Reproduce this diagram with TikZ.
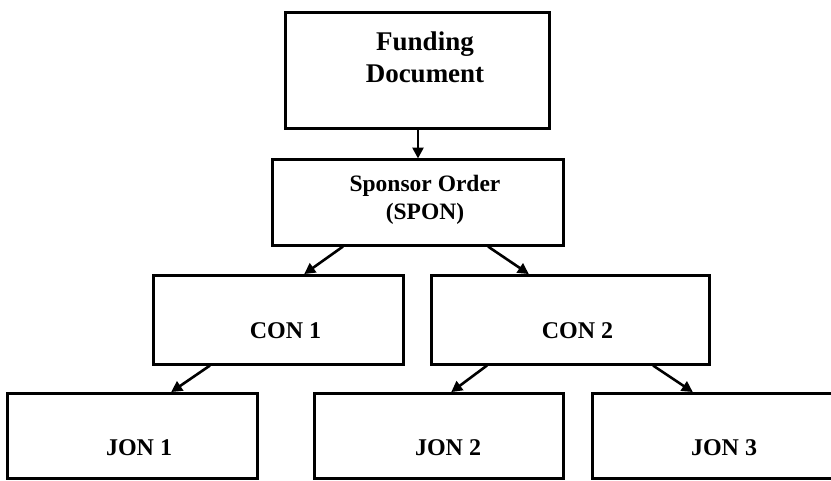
\documentclass[tikz,border=0pt]{standalone}
\usepackage{fontspec}
\setmainfont{Liberation Serif}
\usetikzlibrary{arrows.meta}

\tikzset{
  box/.style={draw=black, line width=3pt, rectangle, inner sep=0pt},
  lbl/.style={font=\bfseries, align=center, inner sep=0pt},
  arr/.style={line width=2.6pt, -{Triangle[length=11pt,width=11pt]}, shorten >=-1pt},
}

\begin{document}
\begin{tikzpicture}[x=1pt, y=-1pt]
  \useasboundingbox (0,0) rectangle (831,480);

  % boxes
  \node[box, minimum width=264pt, minimum height=116pt] (fund) at (417,70) {};
  \node[box, minimum width=291pt, minimum height=86pt]  (spon) at (417.5,202) {};
  \node[box, minimum width=250pt, minimum height=89pt]  (con1) at (278,319.5) {};
  \node[box, minimum width=278pt, minimum height=89pt]  (con2) at (570,319.5) {};
  \node[box, minimum width=250pt, minimum height=85pt]  (jon1) at (132,435.5) {};
  \node[box, minimum width=249pt, minimum height=85pt]  (jon2) at (438.5,435.5) {};
  \node[box, minimum width=243pt, minimum height=85pt]  (jon3) at (713.5,435.5) {};

  % labels
  \node[lbl, font=\fontsize{27}{32}\selectfont\bfseries] (tfund) at (425,57) {Funding\\Document};
  \node[lbl, font=\fontsize{23.5}{28}\selectfont\bfseries] (tspon) at (425,200) {Sponsor Order\\(SPON)};
  \node[lbl, font=\fontsize{24}{28}\selectfont\bfseries] (tcon1) at (285.5,331) {CON 1};
  \node[lbl, font=\fontsize{24}{28}\selectfont\bfseries] (tcon2) at (577.5,331) {CON 2};
  \node[lbl, font=\fontsize{24}{28}\selectfont\bfseries] (tjon1) at (139,448) {JON 1};
  \node[lbl, font=\fontsize{24}{28}\selectfont\bfseries] (tjon2) at (448,448) {JON 2};
  \node[lbl, font=\fontsize{24}{28}\selectfont\bfseries] (tjon3) at (724,448) {JON 3};

  % connectors
  \draw[arr] ([xshift=1pt]fund.south) -- ([xshift=0.5pt]spon.north);
  \draw[arr] ([xshift=-74.5pt]spon.south) -- ([xshift=27pt]con1.north);
  \draw[arr] ([xshift=70.5pt]spon.south) -- ([xshift=-42pt]con2.north);
  \draw[arr] ([xshift=-68pt]con1.south) -- ([xshift=40pt]jon1.north);
  \draw[arr] ([xshift=-83pt]con2.south) -- ([xshift=13.5pt]jon2.north);
  \draw[arr] ([xshift=83pt]con2.south) -- ([xshift=-21.5pt]jon3.north);
\end{tikzpicture}
\end{document}
